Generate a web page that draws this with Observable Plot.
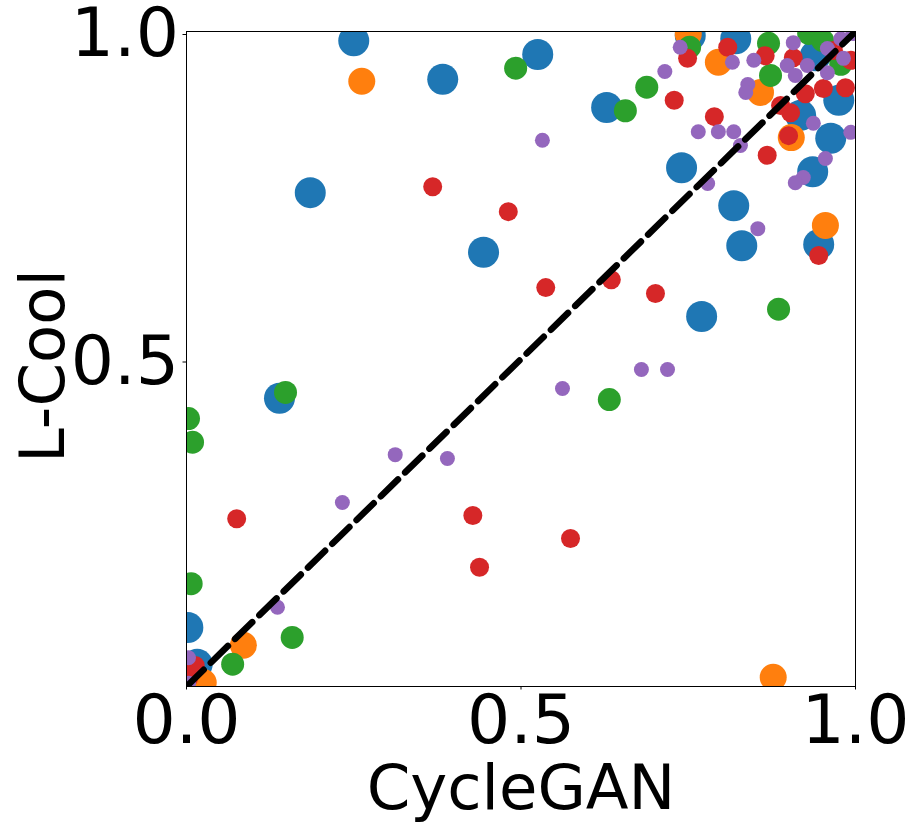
<!DOCTYPE html>
<html>
<head>
<meta charset="utf-8">
<script src="https://cdn.jsdelivr.net/npm/d3@7"></script>
<script src="https://cdn.jsdelivr.net/npm/@observablehq/plot@0.6"></script>
<style>
  html, body { margin: 0; padding: 0; background: #fff; }
  #chart svg { display: block; }
</style>
</head>
<body>
<div id="chart"></div>
<script>
// ---- data ----
const xLabel = "CycleGAN";
const yLabel = "L-Cool";
const xTickValues = [0, 0.5, 1.0];
const yTickValues = [0.5, 1.0];
const diagonal = [0, 1];

const blueX = [0.250,0.525,0.383,0.628,0.185,0.740,0.818,0.830,0.444,0.770,0.139,0.002,0.016,0.821,0.753,0.975,0.963,0.936,0.945,0.918,0.940];
const blueY = [0.986,0.965,0.927,0.884,0.754,0.792,0.734,0.673,0.663,0.565,0.440,0.090,0.034,0.989,0.994,0.895,0.837,0.786,0.675,0.872,0.963];

const orangeX = [0.262,0.795,0.750,0.858,0.904,0.955,0.877,0.085,0.025];
const orangeY = [0.924,0.953,0.996,0.907,0.838,0.704,0.014,0.063,0.006];

const greenX = [0.492,0.688,0.656,0.873,0.870,0.752,0.885,0.632,0.148,0.003,0.009,0.007,0.158,0.069,0.930,0.978,0.951];
const greenY = [0.944,0.915,0.879,0.933,0.982,0.976,0.576,0.438,0.449,0.409,0.373,0.157,0.075,0.034,0.997,0.950,0.986];

const redX = [0.368,0.481,0.537,0.635,0.701,0.075,0.428,0.574,0.438,0.729,0.749,0.789,0.809,0.868,0.945,0.900,0.865,0.907,0.925,0.952,0.985,0.967,0.993,0.888,0.903,0.013,0.003];
const redY = [0.763,0.725,0.609,0.621,0.600,0.256,0.261,0.226,0.182,0.895,0.959,0.870,0.976,0.811,0.658,0.841,0.963,0.960,0.905,0.913,0.914,0.971,0.956,0.887,0.876,0.032,0.012];

const purpleX = [0.532,0.562,0.680,0.719,0.312,0.390,0.233,0.136,0.003,0.003,0.715,0.738,0.765,0.795,0.818,0.828,0.779,0.854,0.816,0.848,0.839,0.836,0.907,0.898,0.928,0.910,0.958,0.937,0.993,0.955,0.922,0.910,0.958,0.978,0.982,0.996];
const purpleY = [0.834,0.455,0.484,0.484,0.354,0.348,0.281,0.121,0.044,0.005,0.939,0.976,0.847,0.847,0.847,0.826,0.768,0.699,0.953,0.956,0.919,0.907,0.983,0.948,0.948,0.933,0.937,0.860,0.846,0.806,0.777,0.769,0.974,0.989,0.959,0.997];

const seriesNames = ["blue", "orange", "green", "red", "purple"];
const seriesColors = ["#1f77b4", "#ff7f0e", "#2ca02c", "#d62728", "#9467bd"];
const seriesRadius = [15.5, 13.5, 11.5, 9.5, 7.5];
const seriesX = [blueX, orangeX, greenX, redX, purpleX];
const seriesY = [blueY, orangeY, greenY, redY, purpleY];

const font = "DejaVu Sans";
const tickFs = 68;
const labelFs = 62.5;

const dotMarks = seriesNames.map((name, i) => {
  const rows = seriesX[i].map((x, j) => ({x, y: seriesY[i][j]}));
  return Plot.dot(rows, {x: "x", y: "y", r: seriesRadius[i], fill: seriesColors[i], stroke: "none", clip: true});
});

const chart = Plot.plot({
  width: 914,
  height: 830,
  marginLeft: 186,
  marginRight: 59,
  marginTop: 31,
  marginBottom: 144,
  style: {fontFamily: font, background: "#fff", color: "#000", overflow: "visible"},
  x: {domain: [0, 1], axis: null},
  y: {domain: [0, 1], axis: null},
  marks: [
    ...dotMarks,
    Plot.line(diagonal, {x: d => d, y: d => d, stroke: "#000", strokeWidth: 6.5, strokeDasharray: "24,10", clip: true}),
    Plot.frame({stroke: "#000", strokeWidth: 1}),
    Plot.axisX({ticks: xTickValues, tickFormat: d3.format(".1f"), tickSize: 3.5, tickPadding: 5, fontSize: tickFs, label: null, stroke: "#000", color: "#000"}),
    Plot.axisY({ticks: yTickValues, tickFormat: d3.format(".1f"), tickSize: 3.5, tickPadding: 4, fontSize: tickFs, label: null, dy: 3, stroke: "#000", color: "#000"}),
    Plot.text([xLabel], {text: d => d, frameAnchor: "bottom", lineAnchor: "bottom", textAnchor: "middle", dy: 122, fontSize: labelFs, fill: "#000"}),
    Plot.text([yLabel], {text: d => d, frameAnchor: "left", lineAnchor: "bottom", textAnchor: "middle", rotate: -90, dx: -123, dy: 7, fontSize: labelFs, fill: "#000"})
  ]
});
document.getElementById("chart").appendChild(chart);
</script>
</body>
</html>
